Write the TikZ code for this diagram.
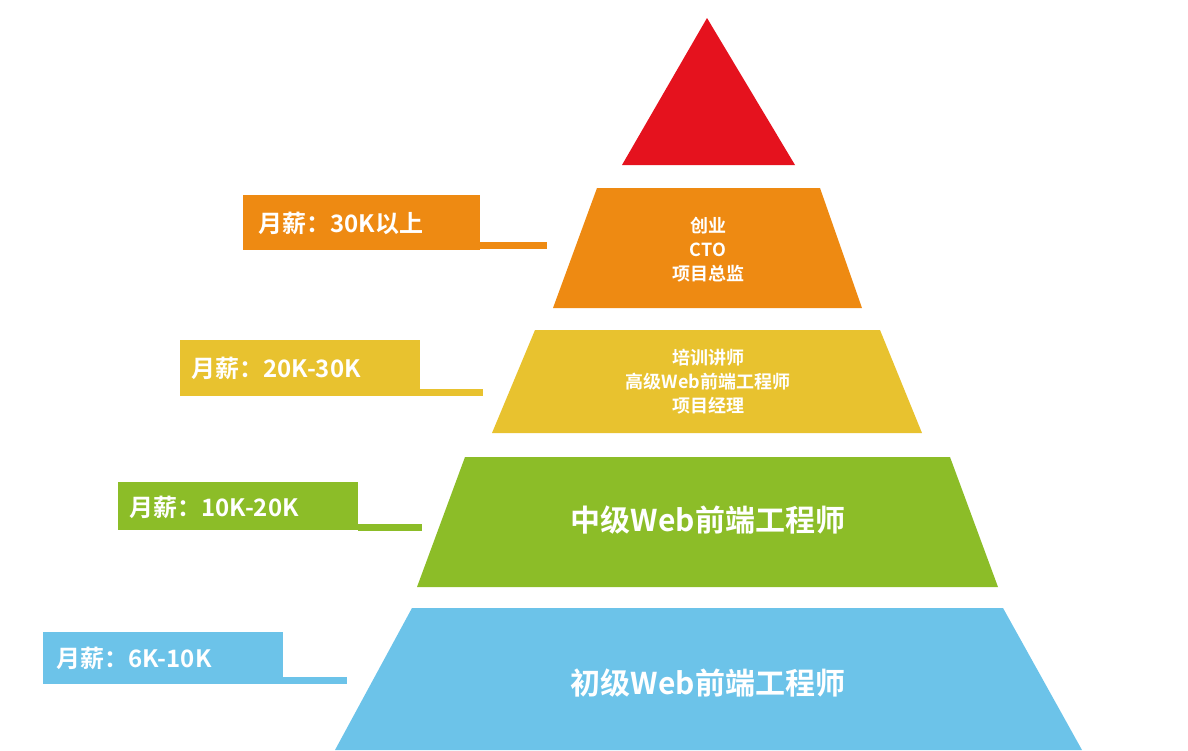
\documentclass[tikz,border=0pt]{standalone}
\usepackage{fontspec}
\setmainfont{Noto Sans CJK SC}[BoldFont={* Bold}]
\definecolor{cred}{HTML}{E5121E}
\definecolor{corange}{HTML}{EE8A12}
\definecolor{cyellow}{HTML}{E8C22F}
\definecolor{cgreen}{HTML}{8CBD28}
\definecolor{cblue}{HTML}{6CC3E9}
\tikzset{lbl/.style={text=white,font=\bfseries\fontsize{24}{28}\selectfont,anchor=west},
 lay/.style={text=white,font=\bfseries\fontsize{18}{24}\selectfont,align=center},
 big/.style={text=white,font=\bfseries\fontsize{30}{34}\selectfont}}
\begin{document}
\begin{tikzpicture}[x=1pt,y=-1pt]
\useasboundingbox (0,0) rectangle (1188,750);
\fill[cred] (707,18) -- (795,165) -- (622,165) -- cycle;
\fill[corange] (597,188) -- (820,188) -- (862,308) -- (553,308) -- cycle;
\fill[cyellow] (535,330) -- (880,330) -- (922,433) -- (492,433) -- cycle;
\fill[cgreen] (465,457) -- (950,457) -- (998,587) -- (417,587) -- cycle;
\fill[cblue] (412,608) -- (1003,608) -- (1082,750) -- (335,750) -- cycle;
\node[lay] (t2) at (708,250) {创业\\CTO\\项目总监};
\node[lay] (t3) at (708,382) {培训讲师\\高级Web前端工程师\\项目经理};
\node[big] (t4) at (708,520) {中级Web前端工程师};
\node[big] (t5) at (708,683) {初级Web前端工程师};
% labels
\fill[corange] (243,195) rectangle (480,250);
\fill[corange] (480,242) rectangle (547,249);
\node[lbl] (l1) at (255,223) {月薪：30K以上};
\fill[cyellow] (180,340) rectangle (420,396);
\fill[cyellow] (420,389) rectangle (483,396);
\node[lbl] (l2) at (188,368) {月薪：20K-30K};
\fill[cgreen] (118,482) rectangle (358,530);
\fill[cgreen] (358,524) rectangle (422,531);
\node[lbl] (l3) at (126,507) {月薪：10K-20K};
\fill[cblue] (43,632) rectangle (283,684);
\fill[cblue] (283,677) rectangle (347,684);
\node[lbl] (l4) at (53,658) {月薪：6K-10K};
\end{tikzpicture}
\end{document}
